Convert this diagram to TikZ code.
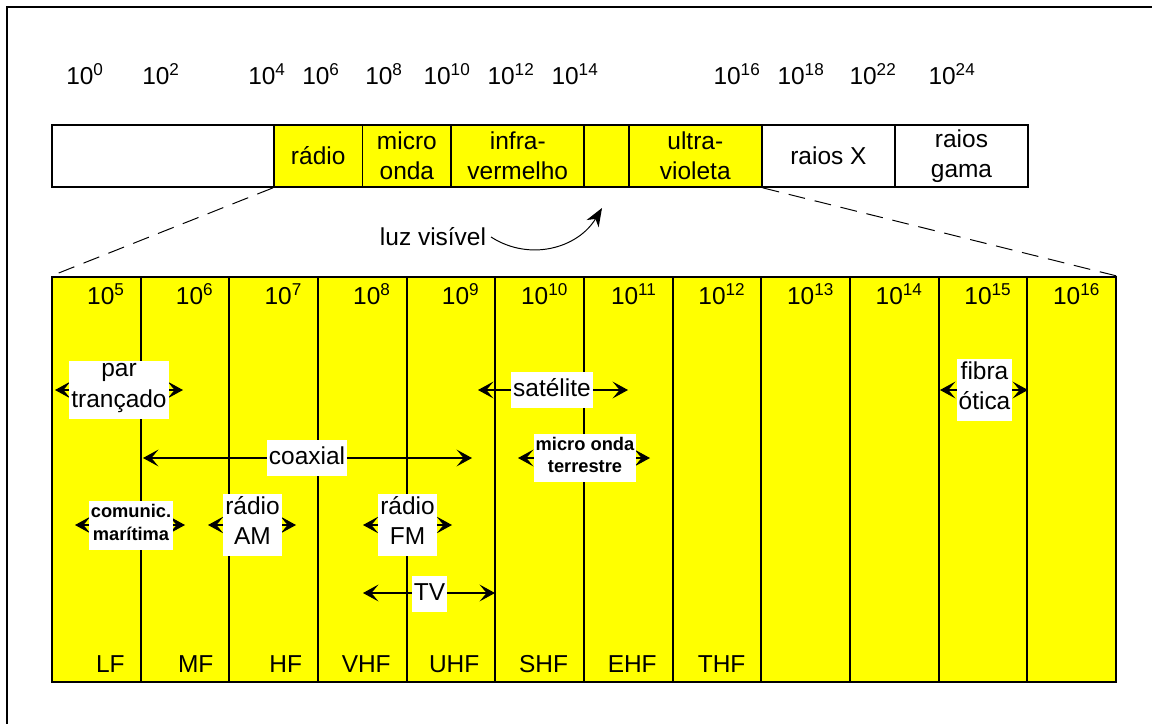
\documentclass[tikz,border=0pt]{standalone}
\usepackage{fontspec}
\setmainfont{Liberation Sans}
\usetikzlibrary{arrows.meta}
\definecolor{bandyellow}{RGB}{255,255,0}

\begin{document}
\begin{tikzpicture}[x=0.025cm, y=-0.025cm,
  every node/.style={font=\fontsize{17.4}{21.5}\selectfont},
  strip/.style={draw, line width=1.2pt, fill=bandyellow, minimum width=#1*1.1091cm, minimum height=1.55cm, inner sep=0pt, align=center},
  col/.style={draw, line width=1.3pt, fill=bandyellow, minimum width=2.2167cm, minimum height=10.125cm, inner sep=0pt},
  tag/.style={fill=white, inner xsep=1.5pt, inner ysep=2pt, align=center, execute at begin node=\strut, execute at end node=\strut},
  tagb/.style={tag, font=\fontsize{13}{16}\selectfont\bfseries},
  link/.style={{Stealth[length=11pt,width=12pt,inset=5pt]}-{Stealth[length=11pt,width=12pt,inset=5pt]}, line width=0.8pt},
  guide/.style={dash pattern=on 12pt off 7pt, line width=0.7pt}]
\useasboundingbox (0,0) rectangle (1152,724);
\draw[line width=0.8pt] (7,724) -- (7,7) -- (1152,7);

% espectro completo
\foreach \x/\e in {85/0,161/2,267/4,321/6,384/8,447/10,511/12,575/14,737/16,801/18,873/22,952/24}
  \node[anchor=base] (t\e) at (\x,84) {10\textsuperscript{\e}};
\node[strip=5, fill=white] (low) at (162.9,156) {};
\node[strip=2] (radio) at (318.2,156) {rádio};
\node[strip=2] (micro) at (406.9,156) {micro\\onda};
\node[strip=3] (infra) at (517.8,156) {infra-\\vermelho};
\node[strip=1] (vis) at (606.5,156) {};
\node[strip=3] (ultra) at (695.3,156) {ultra-\\violeta};
\node[strip=3, fill=white] (raiosx) at (828.4,156) {raios X};
\node[strip=3, fill=white] (gama) at (961.5,156) {raios\\gama};

\node (luz) at (433,237) {luz visível};
\coordinate (luzTip) at (602,208);
\draw[-{Stealth[length=13pt,width=10pt,inset=4pt]}, line width=0.7pt] (luz.east) .. controls (530,262) and (578,248) .. (luzTip);

% faixas de frequencia
\foreach \i in {1,...,12} {
  \pgfmathtruncatemacro\e{\i+4}
  \node[col] (c\i) at ({52+88.67*(\i-0.5)},479.5) {};
  \node[anchor=base east] (p\i) at ([xshift=-8.5pt,yshift=-20pt]c\i.north east) {10\textsuperscript{\e}};
}
\foreach \i/\b in {1/LF,2/MF,3/HF,4/VHF,5/UHF,6/SHF,7/EHF,8/THF}
  \node[anchor=base east] (b\i) at ([xshift=-8.5pt,yshift=7.8pt]c\i.south east) {\b};

\draw[guide] (radio.south west) -- (c1.north west);
\draw[guide] (ultra.south east) -- (c12.north east);

% meios de transmissao
\foreach \n/\a/\b/\y in {par/55/183/390, sat/478/628/390, fib/940/1028/390, coax/143/472/458, mic/518/650/458, mar/75/185/525, am/208/296/525, fm/363/452/525, tv/363/495/593} {
  \coordinate (\n-l) at (\a,\y);
  \coordinate (\n-r) at (\b,\y);
  \draw[link] (\n-l) -- (\n-r);
}
\node[tag] (par) at (119,390) {par\\trançado};
\node[tag] (sat) at (552,390) {satélite};
\node[tag] (fib) at (984.5,390) {fibra\\ótica};
\node[tag] (coax) at (307,458) {coaxial};
\node[tagb] (mic) at (585,458) {micro onda\\terrestre};
\node[tagb] (mar) at (131,525.5) {comunic.\\marítima};
\node[tag] (am) at (252.5,525) {rádio\\AM};
\node[tag] (fm) at (407.5,525) {rádio\\FM};
\node[tag] (tv) at (429.5,594) {TV};
\end{tikzpicture}
\end{document}
